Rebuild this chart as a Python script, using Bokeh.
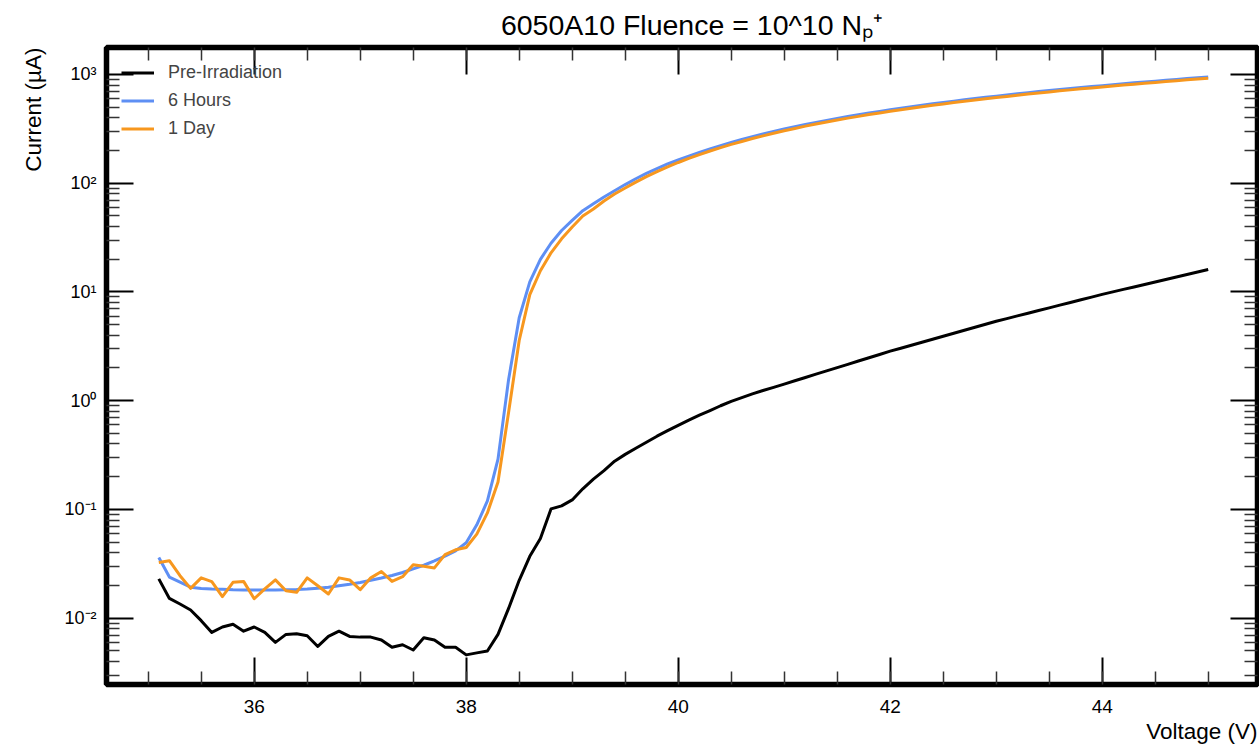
import numpy as np
from bokeh.plotting import figure
from bokeh.models import (Range1d, SingleIntervalTicker, FixedTicker, LinearAxis, LogAxis,
                          Legend, LegendItem, CustomJSTickFormatter, Title)
from bokeh.embed import file_html
from bokeh.resources import INLINE

# ---------------- data ----------------
voltage = np.round(np.arange(35.1, 45.05, 0.1), 1)   # V, 0.1 V steps

pre_irradiation = [
    0.0230, 0.0152, 0.0135, 0.0119, 0.0095, 0.0074, 0.0083, 0.0088, 0.0076, 0.0083,
    0.0074, 0.0060, 0.0071, 0.0072, 0.0069, 0.0055, 0.0068, 0.0076, 0.0068, 0.0067,
    0.0067, 0.0063, 0.0054, 0.0057, 0.0051, 0.0066, 0.0063, 0.0054, 0.0054, 0.0046,
    0.0048, 0.0050, 0.0071, 0.0123, 0.0223, 0.0371, 0.0541, 0.1012, 0.1078, 0.1224,
    0.155, 0.190, 0.228, 0.278, 0.321, 0.365, 0.415, 0.472, 0.530, 0.593,
    0.663, 0.736, 0.812, 0.899, 0.986, 1.066, 1.155, 1.243, 1.327, 1.423,
    1.525, 1.636, 1.754, 1.880, 2.016, 2.161, 2.317, 2.484, 2.663, 2.855,
    3.041, 3.239, 3.451, 3.677, 3.917, 4.174, 4.446, 4.737, 5.047, 5.376,
    5.692, 6.025, 6.378, 6.752, 7.147, 7.566, 8.009, 8.479, 8.976, 9.502,
    10.02, 10.56, 11.13, 11.73, 12.37, 13.04, 13.75, 14.50, 15.28, 16.10,
]

six_hours = [
    0.0362, 0.0239, 0.0215, 0.0193, 0.0188, 0.0186, 0.0185, 0.0183, 0.0182, 0.0182,
    0.0182, 0.0182, 0.0183, 0.0184, 0.0186, 0.0189, 0.0193, 0.0199, 0.0205, 0.0213,
    0.0223, 0.0234, 0.0247, 0.0263, 0.0284, 0.0307, 0.0336, 0.0372, 0.0416, 0.0494,
    0.0722, 0.1198, 0.2906, 1.571, 5.79, 12.37, 19.97, 28.05, 36.75, 45.56,
    55.9, 64.7, 74.6, 85.2, 97.2, 110.0, 123.0, 136.3, 150.3, 163.5,
    177.8, 192.3, 207.0, 222.0, 237.0, 252.3, 267.8, 283.2, 298.8, 315.0,
    331, 347, 362, 378, 394, 410, 426, 442, 458, 474,
    490, 506, 522, 538, 553, 569, 585, 601, 617, 632,
    648, 664, 680, 696, 711, 727, 743, 759, 775, 790,
    806, 822, 838, 854, 869, 885, 901, 917, 933, 949,
]

one_day = [
    0.0326, 0.0338, 0.0246, 0.0188, 0.0235, 0.0217, 0.0158, 0.0214, 0.0218, 0.0151,
    0.0186, 0.0225, 0.0179, 0.0173, 0.0235, 0.0199, 0.0167, 0.0235, 0.0225, 0.0183,
    0.0235, 0.0269, 0.0218, 0.0241, 0.0310, 0.0300, 0.0290, 0.0384, 0.0426, 0.0447,
    0.0593, 0.0930, 0.1789, 0.783, 3.58, 9.44, 15.67, 22.9, 30.8, 39.6,
    50.0, 57.9, 68.6, 79.5, 90.3, 102.4, 115.0, 127.8, 141.5, 155.2,
    169.2, 183.4, 197.8, 212.6, 227.4, 242.3, 257.6, 272.6, 288.0, 303.6,
    319, 335, 350, 366, 381, 397, 412, 428, 443, 459,
    474, 490, 505, 521, 536, 552, 567, 583, 598, 614,
    629, 645, 660, 676, 691, 707, 722, 738, 753, 769,
    784, 800, 815, 831, 846, 862, 877, 893, 908, 924,
]

series_names = ["Pre-Irradiation", "6 Hours", "1 Day"]
series_colors = ["#000000", "#5E8FF4", "#F7971E"]

title_text = "6050A10 Fluence = 10^10 N\u209A\u207A"
x_label = "Voltage (V)"
y_label = "Current (\u00b5A)"

y_major_ticks = [1e-2, 1e-1, 1e0, 1e1, 1e2, 1e3]
y_minor_ticks = [m * 10.0 ** e for e in range(-3, 4) for m in range(2, 10)]

# ---------------- layout ----------------
W, H = 1259, 747
FL, FR, FT, FB = 106, 1257, 47, 684
FONT = "Liberation Sans"

p = figure(width=W, height=H, y_axis_type="log",
           x_range=Range1d(34.6066, 45.465), y_range=Range1d(0.002457, 1771),
           output_backend="svg", toolbar_location=None,
           min_border_left=FL, min_border_right=W - FR,
           min_border_top=FT, min_border_bottom=H - FB)
p.grid.visible = False
p.outline_line_color = "black"
p.outline_line_width = 5.5
p.background_fill_color = "white"
p.border_fill_color = "white"

xticker = SingleIntervalTicker(interval=2, num_minor_ticks=4)
yticker = FixedTicker(ticks=y_major_ticks, minor_ticks=y_minor_ticks)

sup_code = r"""
const e = Math.round(Math.log10(tick));
const m = {"-":"\u207B","0":"\u2070","1":"\u00B9","2":"\u00B2","3":"\u00B3",
           "4":"\u2074","5":"\u2075","6":"\u2076","7":"\u2077","8":"\u2078","9":"\u2079"};
return "10" + String(e).split("").map(c => m[c]).join("");
"""


def blank():
    return CustomJSTickFormatter(code="return '';")


def style_axis(ax, major_len, minor_len, label_size="18px"):
    ax.axis_line_color = None
    ax.major_tick_in = major_len
    ax.major_tick_out = 0
    ax.minor_tick_in = minor_len
    ax.minor_tick_out = 0
    ax.major_tick_line_color = "black"
    ax.major_tick_line_width = 2
    ax.minor_tick_line_color = "#333333"
    ax.minor_tick_line_width = 1.5
    ax.major_label_text_font = FONT
    ax.major_label_text_font_size = label_size
    ax.major_label_text_color = "black"


xa = p.xaxis[0]
xa.ticker = xticker
style_axis(xa, 27, 13, "19px")
xa.major_label_standoff = 15

ya = p.yaxis[0]
ya.ticker = yticker
ya.formatter = CustomJSTickFormatter(code=sup_code)
style_axis(ya, 27, 13, "18px")
ya.major_label_standoff = 10

top = LinearAxis(ticker=xticker, formatter=blank(), major_label_standoff=0)
style_axis(top, 27, 13, "0px")
p.add_layout(top, "above")
right = LogAxis(ticker=yticker, formatter=blank(), major_label_standoff=0)
style_axis(right, 27, 13, "0px")
p.add_layout(right, "right")


def add_title(text, size, place, align, valign, standoff):
    t = Title(text=text, align=align, vertical_align=valign,
              standoff=standoff, text_font=FONT, text_font_size=size,
              text_font_style="normal", text_color="black")
    p.add_layout(t, place)
    return t


# leading en + thin space nudge the centred title slightly right, as in the reference
add_title("\u2002\u2009" + title_text, "28.5px", "above", "center", "middle", 12)
add_title(x_label, "22.5px", "below", "right", "bottom", 3)
add_title(y_label, "22.5px", "left", "right", "middle", 30)

renderers = []
for vals, col in zip([pre_irradiation, six_hours, one_day], series_colors):
    r = p.line(voltage, vals, line_color=col, line_width=3, line_join="round")
    renderers.append(r)

legend = Legend(items=[LegendItem(label=n, renderers=[r]) for n, r in zip(series_names, renderers)],
                location="top_left", margin=15, padding=10, spacing=7,
                glyph_width=33, glyph_height=17, label_height=17, label_standoff=14,
                label_text_font=FONT, label_text_font_size="18px",
                border_line_color=None, background_fill_alpha=0)
p.add_layout(legend)

open("out.html", "w").write(file_html(p, INLINE))
